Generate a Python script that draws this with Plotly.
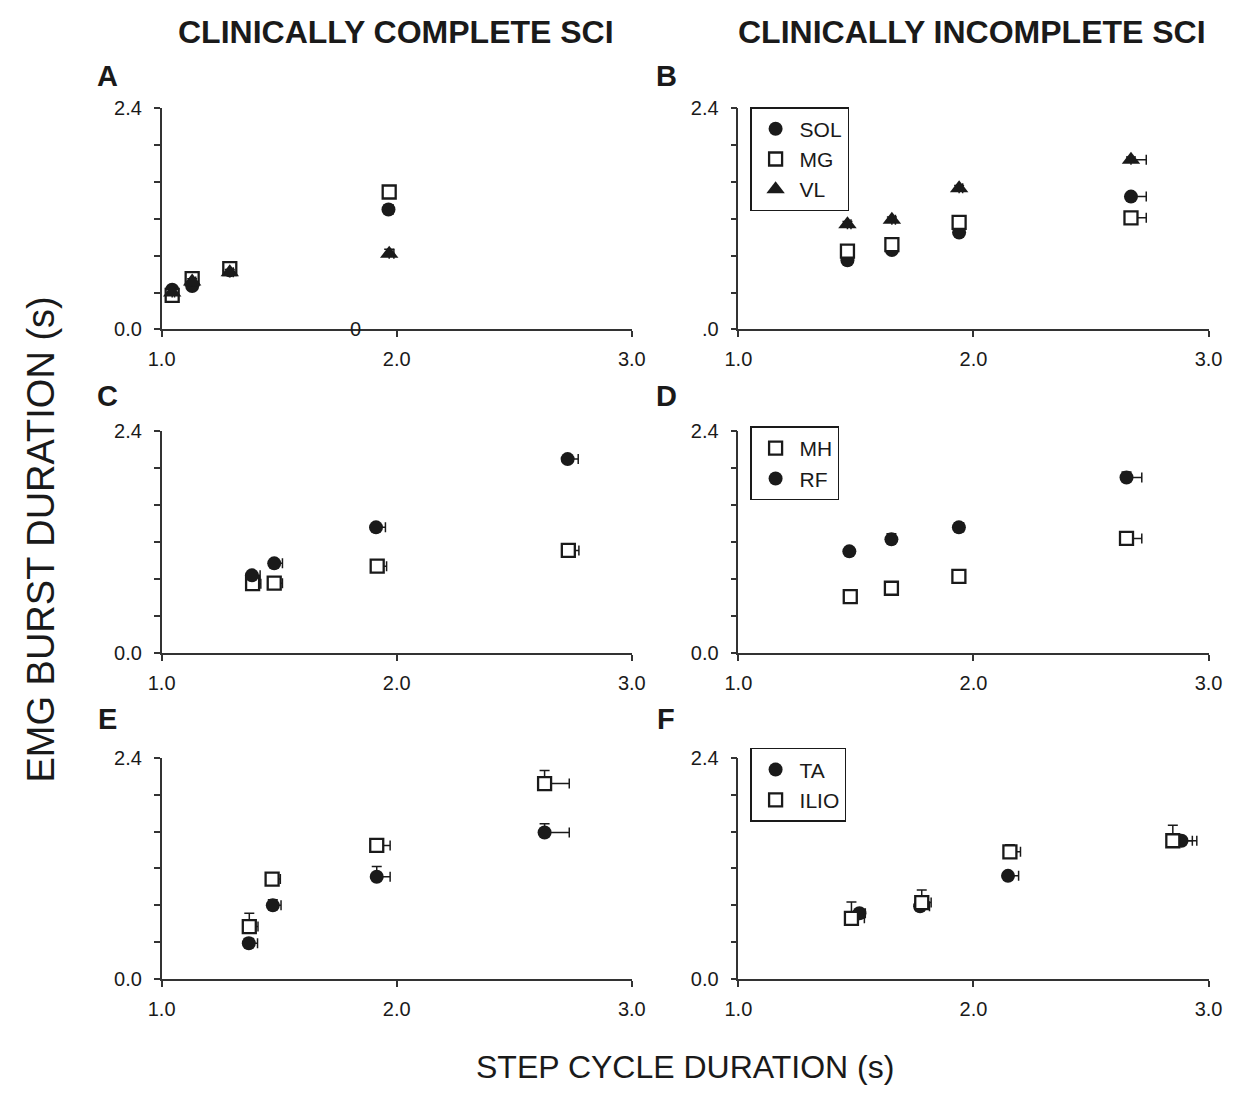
import plotly.graph_objects as go

# ---------------- DATA ----------------
# Panel A (clinically complete SCI): SOL, MG, VL
A_SOL_x = [1.045, 1.13, 1.29, 1.965]
A_SOL_y = [0.43, 0.47, 0.64, 1.30]
A_SOL_xe = [0.01, 0.015, 0.015, 0.02]
A_SOL_ye = [0.03, 0.03, 0.04, 0.05]
A_MG_x = [1.045, 1.13, 1.29, 1.968]
A_MG_y = [0.37, 0.55, 0.66, 1.49]
A_MG_xe = [0.01, 0.015, 0.015, 0.02]
A_MG_ye = [0.03, 0.03, 0.03, 0.04]
A_VL_x = [1.045, 1.13, 1.29, 1.968]
A_VL_y = [0.40, 0.52, 0.62, 0.82]
A_VL_xe = [0.01, 0.015, 0.015, 0.02]
A_VL_ye = [0.03, 0.03, 0.03, 0.05]

# Panel B (clinically incomplete SCI): SOL, MG, VL
B_x = [1.464, 1.653, 1.939, 2.67]
B_SOL_y = [0.75, 0.86, 1.05, 1.44]
B_SOL_ye = [0.03, 0.03, 0.04, 0.03]
B_MG_y = [0.85, 0.92, 1.16, 1.21]
B_MG_ye = [0.03, 0.03, 0.04, 0.03]
B_VL_y = [1.14, 1.19, 1.53, 1.84]
B_VL_ye = [0.03, 0.03, 0.03, 0.03]
B_xe = [0.015, 0.015, 0.015, 0.065]

# Panel C (complete): MH, RF
C_RF_x = [1.384, 1.479, 1.912, 2.727]
C_RF_y = [0.84, 0.97, 1.36, 2.10]
C_RF_xe = [0.035, 0.035, 0.04, 0.045]
C_RF_ye = [0.03, 0.04, 0.03, 0.03]
C_MH_x = [1.387, 1.479, 1.917, 2.73]
C_MH_y = [0.75, 0.755, 0.94, 1.11]
C_MH_xe = [0.035, 0.035, 0.04, 0.045]
C_MH_ye = [0.04, 0.03, 0.03, 0.03]

# Panel D (incomplete): MH, RF
D_RF_x = [1.472, 1.651, 1.938, 2.651]
D_RF_y = [1.10, 1.23, 1.36, 1.90]
D_RF_xe = [0.01, 0.015, 0.02, 0.065]
D_RF_ye = [0.04, 0.06, 0.05, 0.06]
D_MH_x = [1.476, 1.651, 1.938, 2.651]
D_MH_y = [0.61, 0.70, 0.83, 1.24]
D_MH_xe = [0.015, 0.02, 0.025, 0.065]
D_MH_ye = [0.02, 0.03, 0.03, 0.03]

# Panel E (complete): TA, ILIO
E_TA_x = [1.371, 1.473, 1.915, 2.629]
E_TA_y = [0.39, 0.80, 1.11, 1.59]
E_TA_xe = [0.037, 0.035, 0.057, 0.105]
E_TA_ye = [0.05, 0.06, 0.11, 0.095]
E_IL_x = [1.373, 1.470, 1.915, 2.629]
E_IL_y = [0.57, 1.085, 1.45, 2.12]
E_IL_xe = [0.037, 0.035, 0.057, 0.105]
E_IL_ye = [0.145, 0.06, 0.067, 0.141]

# Panel F (incomplete): TA, ILIO
F_TA_x = [1.515, 1.773, 2.147, 2.885]
F_TA_y = [0.715, 0.79, 1.12, 1.50]
F_TA_xe = [0.025, 0.04, 0.045, 0.065]
F_TA_ye = [0.03, 0.03, 0.03, 0.03]
F_IL_x = [1.481, 1.78, 2.155, 2.848]
F_IL_y = [0.66, 0.83, 1.38, 1.50]
F_IL_xe = [0.055, 0.04, 0.045, 0.083]
F_IL_ye = [0.177, 0.137, 0.078, 0.169]

X_TICKS = [1.0, 2.0, 3.0]
X_TICKTEXT = ["1.0", "2.0", "3.0"]
Y_TICKS = [0.0, 0.4, 0.8, 1.2, 1.6, 2.0, 2.4]

COL_TITLES = ["CLINICALLY COMPLETE SCI", "CLINICALLY INCOMPLETE SCI"]
PANEL_LETTERS = ["A", "B", "C", "D", "E", "F"]
X_TITLE = "STEP CYCLE DURATION (s)"
Y_TITLE = "EMG BURST DURATION (s)"

# ---------------- LAYOUT ----------------
W, H = 1247, 1097
FONT = "Liberation Sans, Arial, Helvetica, sans-serif"
NARROW = "Liberation Sans Narrow, Arial Narrow, Liberation Sans, Arial, sans-serif"
INK = "#1a1a1a"
AXC = "#333333"

def px_x(a, b):
    return [a / W, b / W]

def px_y(top, bottom):
    return [1 - bottom / H, 1 - top / H]

col_x = [px_x(151, 632), px_x(741, 1222)]
row_y = [px_y(99, 325), px_y(429, 655), px_y(762, 988)]

fig = go.Figure()

MARK = {
    "circle": dict(symbol="circle", size=14, color=INK),
    "square": dict(symbol="square", size=13, color="white", line=dict(width=2.3, color=INK)),
    "triangle": dict(symbol="triangle-up", size=16, color=INK),
}

def add(idx, name, x, y, xe, ye, kind, legend=None):
    ax = "" if idx == 1 else str(idx)
    fig.add_trace(go.Scatter(
        x=x, y=y, mode="markers", name=name,
        marker=MARK[kind],
        error_x=dict(type="data", symmetric=False, array=xe, arrayminus=[0] * len(x),
                     color=INK, thickness=1.5, width=5),
        error_y=dict(type="data", symmetric=False, array=ye, arrayminus=[0] * len(y),
                     color=INK, thickness=1.5, width=5),
        xaxis="x" + ax, yaxis="y" + ax, cliponaxis=False,
        showlegend=legend is not None, legend=legend if legend else "legend",
    ))

add(1, "SOL", A_SOL_x, A_SOL_y, A_SOL_xe, A_SOL_ye, "circle")
add(1, "MG", A_MG_x, A_MG_y, A_MG_xe, A_MG_ye, "square")
add(1, "VL", A_VL_x, A_VL_y, A_VL_xe, A_VL_ye, "triangle")

add(2, "SOL", B_x, B_SOL_y, B_xe, B_SOL_ye, "circle", "legend")
add(2, "MG", B_x, B_MG_y, B_xe, B_MG_ye, "square", "legend")
add(2, "VL", B_x, B_VL_y, B_xe, B_VL_ye, "triangle", "legend")

add(3, "MH", C_MH_x, C_MH_y, C_MH_xe, C_MH_ye, "square")
add(3, "RF", C_RF_x, C_RF_y, C_RF_xe, C_RF_ye, "circle")

add(4, "MH", D_MH_x, D_MH_y, D_MH_xe, D_MH_ye, "square", "legend2")
add(4, "RF", D_RF_x, D_RF_y, D_RF_xe, D_RF_ye, "circle", "legend2")

add(5, "TA", E_TA_x, E_TA_y, E_TA_xe, E_TA_ye, "circle")
add(5, "ILIO", E_IL_x, E_IL_y, E_IL_xe, E_IL_ye, "square")

add(6, "TA", F_TA_x, F_TA_y, F_TA_xe, F_TA_ye, "circle", "legend3")
add(6, "ILIO", F_IL_x, F_IL_y, F_IL_xe, F_IL_ye, "square", "legend3")

layout = dict(
    width=W, height=H, margin=dict(l=0, r=0, t=0, b=0),
    paper_bgcolor="white", plot_bgcolor="white",
    font=dict(family=FONT, size=20, color=INK),
)

for i in range(6):
    r, c = divmod(i, 2)
    ax = "" if i == 0 else str(i + 1)
    ytext = ["0.0", "", "", "", "", "", "2.4"]
    if i == 1:
        ytext[0] = ".0"
    layout["xaxis" + ax] = dict(
        domain=col_x[c], range=[1.0, 3.0], anchor="y" + ax,
        tickvals=X_TICKS, ticktext=X_TICKTEXT, ticks="outside", ticklen=6,
        tickwidth=1.5, tickcolor=AXC, showline=True, linecolor=AXC, linewidth=1.5,
        showgrid=False, zeroline=False, tickfont=dict(size=20, family=FONT, color=INK),
        ticklabelstandoff=5,
    )
    layout["yaxis" + ax] = dict(
        domain=row_y[r], range=[0.0, 2.4], anchor="x" + ax,
        tickvals=Y_TICKS, ticktext=ytext, ticks="outside", ticklen=6,
        tickwidth=1.5, tickcolor=AXC, showline=True, linecolor=AXC, linewidth=1.5,
        showgrid=False, zeroline=False, tickfont=dict(size=20, family=FONT, color=INK),
        ticklabelstandoff=8,
    )

legend_style = dict(
    bordercolor=INK, borderwidth=1.5, bgcolor="white",
    font=dict(size=21, family=FONT, color=INK),
    xanchor="left", yanchor="top", itemwidth=38, tracegroupgap=0,
    traceorder="normal",
)
layout["legend"] = dict(x=753 / W, y=1 - 98 / H, **legend_style)
layout["legend2"] = dict(x=753 / W, y=1 - 424 / H, **legend_style)
layout["legend3"] = dict(x=753 / W, y=1 - 752 / H, **legend_style)

fig.update_layout(**layout)

ann = []
ann.append(dict(text="<b>" + COL_TITLES[0] + "</b>", x=391 / W, y=1 - 21 / H,
                font=dict(family=NARROW, size=32, color=INK)))
ann.append(dict(text="<b>" + COL_TITLES[1] + "</b>", x=980 / W, y=1 - 21 / H,
                font=dict(family=NARROW, size=32, color=INK)))
letter_pos = [(96, 66), (667, 66), (96, 393), (667, 393), (96, 722), (667, 722)]
for L, (lx, ly) in zip(PANEL_LETTERS, letter_pos):
    ann.append(dict(text="<b>" + L + "</b>", x=lx / W, y=1 - ly / H,
                    font=dict(family=FONT, size=29, color=INK)))
ann.append(dict(text=X_TITLE, x=686 / W, y=1 - 1078 / H,
                font=dict(family=FONT, size=32, color=INK)))
ann.append(dict(text=Y_TITLE, x=28 / W, y=1 - 539 / H, textangle=-90,
                font=dict(family=FONT, size=38, color=INK)))
# stray "0" glyph printed on panel A's x-axis in the original
ann.append(dict(text="0", x=349 / W, y=1 - 325 / H,
                font=dict(family=FONT, size=20, color=INK)))

for a in ann:
    a.update(xref="paper", yref="paper", showarrow=False, xanchor="center", yanchor="middle")
fig.update_layout(annotations=ann)

fig.write_html("out.html")
